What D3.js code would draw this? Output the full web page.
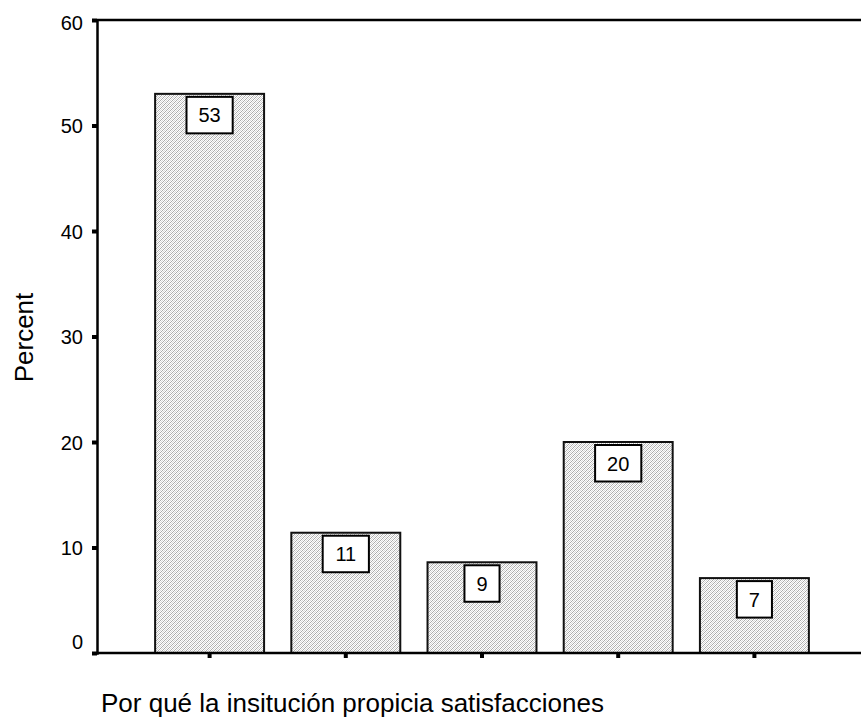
<!DOCTYPE html>
<html>
<head>
<meta charset="utf-8">
<script src="https://cdn.jsdelivr.net/npm/d3@7"></script>
<style>
  body { margin: 0; background: #fff; }
  text { font-family: "Liberation Sans", Arial, sans-serif; fill: #000; }
</style>
</head>
<body>
<script>
// categories have no printed names in the chart, only ticks
var categories = ["c1", "c2", "c3", "c4", "c5"];
var percents = [53.0, 11.4, 8.6, 20.0, 7.1];
var barLabels = ["53", "11", "9", "20", "7"];
var yTicks = [0, 10, 20, 30, 40, 50, 60];

var width = 861, height = 720;
var margin = {top: 20, left: 97, bottom: 67, right: 0};

var svg = d3.select("body").append("svg")
  .attr("width", width)
  .attr("height", height);

/* fine stipple hatch like the SPSS bars */
var defs = svg.append("defs");
var pat = defs.append("pattern")
  .attr("id", "hatch")
  .attr("patternUnits", "userSpaceOnUse")
  .attr("width", 4)
  .attr("height", 4);
pat.append("rect").attr("width", 4).attr("height", 4).attr("fill", "#fff");
for (var px = 0; px < 4; px++) {
  for (var py = 0; py < 4; py++) {
    if ((px + py) % 2 === 0) {
      pat.append("rect")
        .attr("x", px).attr("y", py)
        .attr("width", 1).attr("height", 1)
        .attr("fill", (px + py) % 4 === 0 ? "#ababab" : "#d6d6d6");
    }
  }
}

var yScale = d3.scaleLinear()
  .domain([0, 60])
  .range([height - margin.bottom, margin.top]);

var xScale = d3.scaleBand()
  .domain(categories)
  .range([141.5, 822.5])
  .paddingInner(0.2)
  .paddingOuter(0.1);

// bars
svg.append("g").selectAll("rect")
  .data(percents)
  .enter()
  .append("rect")
    .attr("x", (d, i) => xScale(categories[i]))
    .attr("y", (d) => yScale(d))
    .attr("width", xScale.bandwidth())
    .attr("height", (d) => yScale(0) - yScale(d))
    .attr("fill", "url(#hatch)")
    .attr("stroke", "#111")
    .attr("stroke-width", 2);

// value boxes
var lab = svg.append("g").selectAll("g")
  .data(percents)
  .enter()
  .append("g")
    .attr("transform", (d, i) =>
      "translate(" + (xScale(categories[i]) + xScale.bandwidth() / 2) + "," + (yScale(d) + 3) + ")");
lab.append("rect")
  .attr("x", (d, i) => -(barLabels[i].length * 11.1 + 24) / 2)
  .attr("y", 0)
  .attr("width", (d, i) => barLabels[i].length * 11.1 + 24)
  .attr("height", 36.5)
  .attr("fill", "#fff")
  .attr("stroke", "#000")
  .attr("stroke-width", 2);
lab.append("text")
  .attr("x", 0)
  .attr("y", 18.5)
  .attr("text-anchor", "middle")
  .attr("dominant-baseline", "central")
  .style("font-size", "20px")
  .text((d, i) => barLabels[i]);

// frame lines: top and x axis run to the right edge
svg.append("line")
  .attr("x1", margin.left).attr("x2", width)
  .attr("y1", yScale(60)).attr("y2", yScale(60))
  .attr("stroke", "#000").attr("stroke-width", 2.5);

var yAxis = d3.axisLeft(yScale)
  .tickValues(yTicks)
  .tickSize(5)
  .tickPadding(9)
  .tickFormat(d3.format("d"));
var yg = svg.append("g")
  .attr("transform", "translate(" + margin.left + ",0)")
  .call(yAxis);
yg.select(".domain").attr("stroke", "#000").attr("stroke-width", 2.5);
yg.selectAll(".tick line").attr("stroke", "#000").attr("stroke-width", 4);
yg.selectAll(".tick text")
  .style("font-size", "20px")
  .attr("font-family", null)
  .attr("dy", null)
  .attr("dominant-baseline", "central")
  .attr("y", (d) => d === 0 ? -12 : (d === 60 ? 2.5 : 0));

var xAxis = d3.axisBottom(xScale)
  .tickSize(5)
  .tickFormat("");
var xg = svg.append("g")
  .attr("transform", "translate(0," + yScale(0) + ")")
  .call(xAxis);
xg.select(".domain").remove();
xg.selectAll(".tick line").attr("stroke", "#000").attr("stroke-width", 4);
xg.append("line")
  .attr("x1", margin.left).attr("x2", width)
  .attr("y1", 0).attr("y2", 0)
  .attr("stroke", "#000").attr("stroke-width", 2.5);

// axis titles
svg.append("text")
  .attr("transform", "translate(33,337.5) rotate(-90)")
  .attr("text-anchor", "middle")
  .style("font-size", "26px")
  .text("Percent");

svg.append("text")
  .attr("x", 101)
  .attr("y", 712)
  .style("font-size", "26px")
  .text("Por qué la insitución propicia satisfacciones");
</script>
</body>
</html>
